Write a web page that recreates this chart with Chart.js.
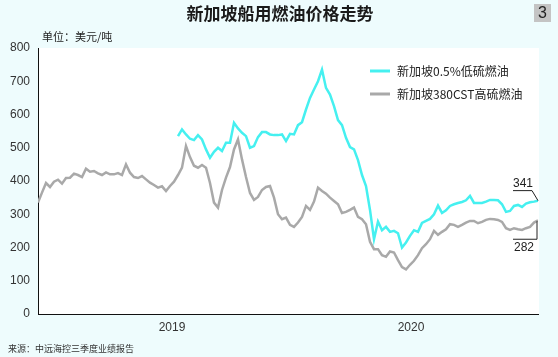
<!DOCTYPE html>
<html><head><meta charset="utf-8">
<script src="https://cdn.jsdelivr.net/npm/chart.js@4/dist/chart.umd.min.js"></script>
<style>
html,body{margin:0;padding:0;background:#eefcfd;}
#wrap{width:558px;height:357px;position:relative;}
canvas{display:block;}
</style></head>
<body><div id="wrap"><canvas id="c" width="558" height="357"></canvas></div>
<script>
const chartTitle = '新加坡船用燃油价格走势';
const unitText = '单位：美元/吨';
const sourceText = '来源：中远海控三季度业绩报告';
const seriesNames = ['新加坡0.5%低硫燃油', '新加坡380CST高硫燃油'];
const tickLabels = ['2019', '2020'];
const tickIndex = [33.5, 93.25];
const lowSulfurStart = 35;
const lowSulfur = [535,555,540,527,523,538,525,495,470,488,
 500,490,515,515,575,558,545,535,500,505,
 532,547,547,540,538,538,540,520,542,540,
 568,577,615,650,675,700,735,680,660,625,
 583,568,530,502,495,463,418,385,313,225,
 278,252,262,247,250,243,200,215,235,252,
 247,274,280,286,300,326,304,312,325,330,
 334,337,342,355,334,334,334,338,343,343,
 342,330,307,310,325,328,322,332,336,338,341];
const highSulfur = [335,365,394,382,398,404,392,409,410,422,418,412,437,428,430,423,418,426,420,420,
 424,418,450,425,412,409,415,405,395,388,380,384,370,385,398,418,440,505,472,446,
 440,448,440,394,335,320,373,410,442,495,525,465,412,364,343,352,373,382,385,350,
 300,285,290,268,262,275,292,325,313,338,380,370,362,350,340,330,304,307,313,320,
 292,285,270,217,195,195,177,172,188,185,162,141,134,148,160,177,198,210,225,250,
 238,247,255,270,268,262,268,275,280,280,273,277,283,286,285,283,277,258,253,258,
 255,253,258,262,275,282];
const endLabels = ['341', '282'];

const lowPts = lowSulfur.map((v, i) => ({x: lowSulfurStart + i, y: v}));
const highPts = highSulfur.map((v, i) => ({x: i, y: v}));
const colors = ['#45f0f0', '#a9a9a9'];

const decor = {
  id: 'decor',
  beforeDraw(chart) {
    const {ctx, chartArea: a} = chart;
    ctx.save();
    ctx.fillStyle = '#eefcfd';
    ctx.fillRect(0, 0, chart.width, chart.height);
    ctx.fillStyle = '#ffffff';
    ctx.fillRect(a.left, a.top, a.right - a.left + 1, a.bottom - a.top);
    ctx.restore();
  },
  afterDraw(chart) {
    const {ctx} = chart;
    const xs = chart.scales.x, ys = chart.scales.y;
    ctx.save();
    ctx.fillStyle = '#1a1a1a';
    ctx.font = 'bold 17px "Noto Sans CJK SC"';
    ctx.textAlign = 'center'; ctx.textBaseline = 'middle';
    ctx.fillText(chartTitle, 280, 14);
    ctx.fillStyle = '#c4c4c4';
    ctx.fillRect(534, 4, 17, 18);
    ctx.fillStyle = '#222';
    ctx.font = '16px "Liberation Sans"';
    ctx.fillText('3', 542.5, 13.5);
    ctx.textAlign = 'left';
    ctx.font = '11px "Noto Sans CJK SC"';
    ctx.fillStyle = '#222';
    ctx.fillText(unitText, 42, 37);
    ctx.font = '9px "Noto Sans CJK SC"';
    ctx.fillStyle = '#333';
    ctx.fillText(sourceText, 8, 349);
    const ly = [71, 94];
    chart.data.datasets.forEach((ds, i) => {
      ctx.strokeStyle = ds.borderColor; ctx.lineWidth = 3;
      ctx.beginPath(); ctx.moveTo(370, ly[i]); ctx.lineTo(390, ly[i]); ctx.stroke();
      ctx.fillStyle = '#222'; ctx.font = '12px "Noto Sans CJK SC"';
      ctx.textAlign = 'left';
      ctx.fillText(ds.label, 397, ly[i] + 0.5);
    });
    const xe = xs.getPixelForValue(highSulfur.length - 1);
    const yc = ys.getPixelForValue(lowSulfur[lowSulfur.length - 1]);
    const yg = ys.getPixelForValue(highSulfur[highSulfur.length - 1]);
    ctx.strokeStyle = '#222'; ctx.lineWidth = 1;
    ctx.beginPath();
    ctx.moveTo(xe - 25, yc - 10); ctx.lineTo(xe - 6, yc - 10); ctx.lineTo(xe, yc);
    ctx.stroke();
    ctx.beginPath();
    ctx.moveTo(xe - 25, yg + 19); ctx.lineTo(xe - 1, yg + 19); ctx.lineTo(xe - 1, yg + 1);
    ctx.stroke();
    ctx.fillStyle = '#222'; ctx.font = '12px "Liberation Sans"';
    ctx.textAlign = 'center';
    ctx.fillText(endLabels[0], xe - 15, yc - 17);
    ctx.fillText(endLabels[1], xe - 14, yg + 27);
    ctx.restore();
  }
};

new Chart(document.getElementById('c'), {
  type: 'line',
  data: {
    datasets: [
      {label: seriesNames[0], data: lowPts, borderColor: colors[0], borderWidth: 2.5, pointRadius: 0, tension: 0, fill: false},
      {label: seriesNames[1], data: highPts, borderColor: colors[1], borderWidth: 2.5, pointRadius: 0, tension: 0, fill: false}
    ]
  },
  options: {
    responsive: false, animation: false, devicePixelRatio: 1,
    layout: {padding: {left: 0, right: 20, top: 48, bottom: 17}},
    plugins: {legend: {display: false}, tooltip: {enabled: false}},
    scales: {
      x: {
        type: 'linear', min: 0, max: highSulfur.length - 1,
        grid: {display: false, drawTicks: false},
        border: {display: true, color: '#111', width: 1},
        afterBuildTicks: s => { s.ticks = tickIndex.map(v => ({value: v})); },
        afterFit: s => { s.height = 26; },
        ticks: {
          padding: 6, maxRotation: 0, autoSkip: false,
          color: '#333', font: {family: 'Liberation Sans', size: 12},
          callback: (v) => { const k = tickIndex.indexOf(v); return k >= 0 ? tickLabels[k] : ''; }
        }
      },
      y: {
        min: 0, max: 800,
        grid: {display: false, drawTicks: false},
        border: {display: true, color: '#111', width: 1},
        afterFit: s => { s.width = 38; },
        ticks: {stepSize: 100, padding: 8, color: '#333', font: {family: 'Liberation Sans', size: 12}}
      }
    }
  },
  plugins: [decor]
});
</script></body></html>
